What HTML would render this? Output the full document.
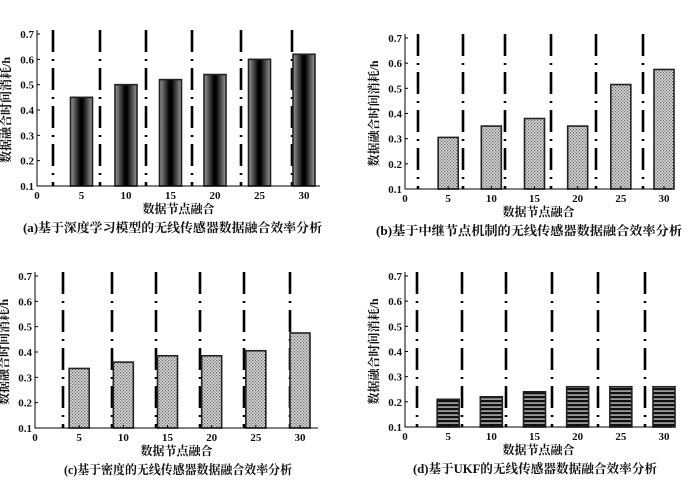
<!DOCTYPE html>
<html><head><meta charset="utf-8">
<style>
html,body{margin:0;padding:0;background:#fff;}
svg{display:block;font-family:"Liberation Serif","Noto Serif CJK SC",serif;}
</style></head>
<body>
<svg id="chart" width="700" height="485" viewBox="0 0 700 485" xmlns="http://www.w3.org/2000/svg">
<defs>
<linearGradient id="gradA" x1="0" x2="1" y1="0" y2="0">
<stop offset="0" stop-color="#9a9a9a"/><stop offset="0.45" stop-color="#000"/><stop offset="0.55" stop-color="#000"/><stop offset="1" stop-color="#9a9a9a"/>
</linearGradient>
<pattern id="hatch" width="3" height="3" patternUnits="userSpaceOnUse">
<rect width="3" height="3" fill="#d8d8d8"/><rect width="1.2" height="1.2" fill="#666"/><rect x="1.5" y="1.5" width="1.2" height="1.2" fill="#666"/>
</pattern>
<pattern id="stripes" width="4" height="4" patternUnits="userSpaceOnUse">
<rect width="4" height="4" fill="#999"/><rect width="4" height="2.2" fill="#111"/>
</pattern>
</defs>
</svg>
<script>
const categories = [5, 10, 15, 20, 25, 30];
const xTicks = [0, 5, 10, 15, 20, 25, 30];
const yTicks = [0.1, 0.2, 0.3, 0.4, 0.5, 0.6, 0.7];
const valuesA = [0.45, 0.50, 0.52, 0.54, 0.60, 0.62];
const valuesB = [0.305, 0.35, 0.38, 0.35, 0.515, 0.575];
const valuesC = [0.335, 0.36, 0.385, 0.385, 0.405, 0.475];
const valuesD = [0.21, 0.22, 0.24, 0.26, 0.26, 0.26];

const NS = "http://www.w3.org/2000/svg";
const svg = document.getElementById('chart');
function mk(tag, attrs, parent){
  const e = document.createElementNS(NS, tag);
  for (const k in attrs) e.setAttribute(k, attrs[k]);
  (parent||svg).appendChild(e);
  return e;
}
function txt(parent, x, y, s, size, anchor, weight){
  const t = mk('text', {x:x, y:y, 'font-size':size, 'text-anchor':anchor||'middle', 'font-weight':weight||'bold', fill:'#111'}, parent);
  t.textContent = s;
  return t;
}

function panel(cfg){
  const g = mk('g', {});
  
  
  const xs = v => cfg.x0 + (v - 0) / 30 * (cfg.x30 - cfg.x0);
  const ys = v => cfg.yBot - (v - 0.1) / 0.6 * (cfg.yBot - cfg.yTop);
  cfg.dash.forEach((dx, i) => {
    const l = mk('line', {x1:dx, x2:dx, y1:cfg.yTop-4, y2:cfg.yBot, stroke:'#000', 'stroke-width':2.6, 'stroke-dasharray':'22,7,2,7'}, g);
    
    
  });
  categories.forEach((c, i) => {
    const v = cfg.values[i];
    const x = xs(c) - cfg.bw/2, y = ys(v);
    const r = mk('rect', {x:x, y:y, width:cfg.bw, height:cfg.yBot - y, fill:cfg.fill, stroke:'#222', 'stroke-width':1.6}, g);
    
    
  });
  const ax = mk('path', {d:`M${cfg.x0},${cfg.yTop-4} L${cfg.x0},${cfg.yBot} L${cfg.xEnd},${cfg.yBot}`, fill:'none', stroke:'#000', 'stroke-width':1}, g);
  
  
  yTicks.forEach(t => {
    const y = ys(t);
    mk('line', {x1:cfg.x0, x2:cfg.x0+3, y1:y, y2:y, stroke:'#000'}, g);
    const tl = txt(g, cfg.x0-3, y+4, t.toFixed(1), 11, 'end');
    
    
  });
  xTicks.forEach(t => {
    const x = xs(t);
    mk('line', {x1:x, x2:x, y1:cfg.yBot, y2:cfg.yBot-3, stroke:'#000'}, g);
    const tl = txt(g, x, cfg.yBot+13, String(t), 11, 'middle');
    
    
  });
  const xl = txt(g, (cfg.x0+cfg.xEnd)/2, cfg.yBot+27, '数据节点融合', 12, 'middle');
  
  
  const cy = (cfg.yTop+cfg.yBot)/2;
  const yl = txt(g, 0, 0, '数据融合时间消耗/h', 12, 'middle');
  yl.setAttribute('transform', `translate(${cfg.x0-27},${cy}) rotate(-90)`);
  
  
  const cap = txt(g, cfg.capL, cfg.yBot+46, cfg.caption, 12.5, 'start');
  cap.setAttribute('textLength', cfg.capW);
  cap.setAttribute('lengthAdjust', 'spacingAndGlyphs');
  
  
}

panel({name:'panel-a', x0:37, x30:304, xEnd:320, yTop:34, yBot:186, bw:22, fill:'url(#gradA)',
  values:valuesA, dash:[53,100,146,192,241,292], capL:23, capW:299,
  caption:'(a)基于深度学习模型的无线传感器数据融合效率分析'});
panel({name:'panel-b', x0:405, x30:664, xEnd:672, yTop:38, yBot:189, bw:20, fill:'url(#hatch)',
  values:valuesB, dash:[418,463,505,551,596,643], capL:376, capW:306,
  caption:'(b)基于中继节点机制的无线传感器数据融合效率分析'});
panel({name:'panel-c', x0:35, x30:300, xEnd:318, yTop:276, yBot:428, bw:20, fill:'url(#hatch)',
  values:valuesC, dash:[63,112,156,200,244,290], capL:64, capW:228,
  caption:'(c)基于密度的无线传感器数据融合效率分析'});
panel({name:'panel-d', x0:405, x30:664, xEnd:672, yTop:276, yBot:427, bw:22, fill:'url(#stripes)',
  values:valuesD, dash:[417,462,506,552,598,645], capL:413, capW:244,
  caption:'(d)基于UKF的无线传感器数据融合效率分析'});
</script>
</body></html>
